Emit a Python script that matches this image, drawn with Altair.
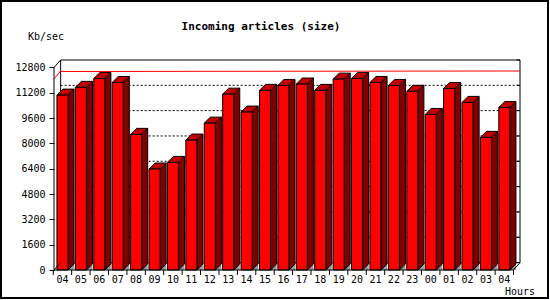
import altair as alt
import pandas as pd

# ---- data ----
hours = ["04", "05", "06", "07", "08", "09", "10", "11", "12", "13", "14", "15",
         "16", "17", "18", "19", "20", "21", "22", "23", "00", "01", "02", "03", "04"]
kb_per_sec = [11050, 11540, 12100, 11850, 8570, 6380, 6800, 8210, 9280, 11110,
              9980, 11350, 11660, 11750, 11350, 12060, 12105, 11850, 11660, 11290,
              9830, 11470, 10590, 8380, 10270]
y_ticks = [0, 1600, 3200, 4800, 6400, 8000, 9600, 11200, 12800]

# ---- geometry of the pseudo-3D drawing (in scale units) ----
HALF = 0.30          # half width of a bar front face
DX, DY = 0.33, 380   # bar depth
PDX, PDY = 0.36, 470  # depth of the back plane
XMIN, XMAX = -0.46, 24.85
YMAX = y_ticks[-1] + PDY

FRONT = "#ff0000"
SIDE = "#800000"
TOP = "#c00000"
FLOOR = "#999999"
FONT = "DejaVu Sans Mono"

xs = alt.Scale(domain=[XMIN, XMAX], nice=False, zero=False)
ys = alt.Scale(domain=[0, YMAX], nice=False, zero=False)
yaxis = alt.Axis(values=y_ticks, title=None, grid=False, domain=False, format="d",
                 ticks=True, tickSize=5, tickColor="black", tickWidth=1,
                 labelFont=FONT, labelFontSize=10, labelColor="black",
                 labelPadding=4)

n = len(kb_per_sec)
front = pd.DataFrame({
    "i": list(range(n)),
    "hour": hours,
    "v": kb_per_sec,
})
front["xl"] = front["i"] - HALF
front["xr"] = front["i"] + HALF
front["base"] = 0

side_rows, top_rows, floor_rows = [], [], []
for i, v in enumerate(kb_per_sec):
    xl, xr = i - HALF, i + HALF
    side_rows += [dict(g=i, x=xr, lo=0, hi=v), dict(g=i, x=xr + DX, lo=DY, hi=v + DY)]
    top_rows += [dict(g=i, x=xl, lo=v, hi=v), dict(g=i, x=xl + DX, lo=v, hi=v + DY),
                 dict(g=i, x=xr, lo=v, hi=v + DY), dict(g=i, x=xr + DX, lo=v + DY, hi=v + DY)]
    floor_rows += [dict(g=i, x=xr, lo=0, hi=0), dict(g=i, x=xr + DX, lo=0, hi=DY)]
side = pd.DataFrame(side_rows)
topf = pd.DataFrame(top_rows)
floor = pd.DataFrame(floor_rows)

vmax = max(kb_per_sec)

# frame lines (x, x2, y, y2)
frame = pd.DataFrame([
    dict(x=XMIN, x2=XMIN, y=0, y2=y_ticks[-1]),
    dict(x=XMIN, x2=XMIN + PDX, y=y_ticks[-1], y2=YMAX),
    dict(x=XMIN, x2=XMAX - PDX, y=0, y2=0),
    dict(x=XMAX - PDX, x2=XMAX, y=0, y2=PDY),
    dict(x=XMIN, x2=XMIN + PDX, y=0, y2=PDY),
])
for t in y_ticks:
    frame.loc[len(frame)] = dict(x=XMAX - 0.18, x2=XMAX, y=t + PDY, y2=t + PDY)

grid = pd.DataFrame({"y": [t + PDY for t in y_ticks[1:-1]]})
grid["x"] = XMIN + PDX
grid["x2"] = XMAX
grid["y2"] = grid["y"]

redline = pd.DataFrame([
    dict(x=XMIN, x2=XMIN + PDX, y=vmax, y2=vmax + PDY),
    dict(x=XMIN + PDX, x2=XMAX, y=vmax + PDY, y2=vmax + PDY),
])
plane = pd.DataFrame([dict(x=XMIN + PDX, x2=XMAX, y=PDY, y2=YMAX)])
xticks = pd.DataFrame({"x": [i - 0.5 for i in range(n + 1)]})
one = pd.DataFrame({"k": [0]})


def X(f):
    return alt.X(f, scale=xs, axis=None)


def Y(f):
    return alt.Y(f, scale=ys, axis=yaxis, stack=None)


plane_l = alt.Chart(plane).mark_rect(fill="white", stroke="black", strokeWidth=1).encode(
    x=X("x:Q"), x2="x2:Q", y=Y("y:Q"), y2="y2:Q")

grid_l = alt.Chart(grid).mark_rule(color="black", strokeWidth=1, strokeDash=[2, 2]).encode(
    x=X("x:Q"), x2="x2:Q", y=Y("y:Q"), y2="y2:Q")

red_l = alt.Chart(redline).mark_rule(color="#ff0000", strokeWidth=1, yOffset=0.5).encode(
    x=X("x:Q"), x2="x2:Q", y=Y("y:Q"), y2="y2:Q")

floor_l = alt.Chart(floor).mark_area(fill=FLOOR, interpolate="linear").encode(
    x=X("x:Q"), y=Y("lo:Q"), y2="hi:Q", detail="g:N")

side_l = alt.Chart(side).mark_area(fill=SIDE, stroke="black", strokeWidth=1,
                                   interpolate="linear").encode(
    x=X("x:Q"), y=Y("lo:Q"), y2="hi:Q", detail="g:N")

top_l = alt.Chart(topf).mark_area(fill=TOP, stroke="black", strokeWidth=1,
                                  interpolate="linear").encode(
    x=X("x:Q"), y=Y("lo:Q"), y2="hi:Q", detail="g:N")

front_l = alt.Chart(front).mark_rect(fill=FRONT, stroke="black", strokeWidth=1).encode(
    x=X("xl:Q"), x2="xr:Q", y=Y("base:Q"), y2="v:Q")

frame_l = alt.Chart(frame).mark_rule(color="black", strokeWidth=1).encode(
    x=X("x:Q"), x2="x2:Q", y=Y("y:Q"), y2="y2:Q")

xtick_l = alt.Chart(xticks).mark_rule(color="black", strokeWidth=1).encode(
    x=X("x:Q"), y=alt.value(210), y2=alt.value(215))

xlab_l = alt.Chart(front).mark_text(font=FONT, fontSize=10, color="black",
                                    baseline="middle", align="center").encode(
    x=X("i:Q"), y=alt.value(220), text="hour:N")

title_l = alt.Chart(one).mark_text(font=FONT, fontSize=11, fontWeight="bold",
                                   color="black", align="center", baseline="middle",
                                   text="Incoming articles (size)").encode(
    x=alt.value(207), y=alt.value(-33))

ylab_l = alt.Chart(one).mark_text(font=FONT, fontSize=10, color="black",
                                  align="left", baseline="middle", text="Kb/sec").encode(
    x=alt.value(-26), y=alt.value(-23))

xlab_title_l = alt.Chart(one).mark_text(font=FONT, fontSize=10, color="black",
                                        align="left", baseline="middle", text="Hours").encode(
    x=alt.value(451), y=alt.value(232))

border_l = alt.Chart(one).mark_rect(fillOpacity=0, stroke="black", strokeWidth=2).encode(
    x=alt.value(-53), x2=alt.value(494), y=alt.value(-59), y2=alt.value(238))

chart = alt.layer(
    plane_l, grid_l, red_l, floor_l, side_l, top_l, front_l,
    frame_l, xtick_l, xlab_l, title_l, ylab_l, xlab_title_l, border_l
).properties(
    width=466, height=210,
    padding={"left": 54, "top": 60, "right": 30, "bottom": 30},
    autosize=alt.AutoSizeParams(type="none"),
    background="white",
).configure_view(stroke=None)

chart.save("out.html", embed_options={"renderer": "svg", "actions": False})
